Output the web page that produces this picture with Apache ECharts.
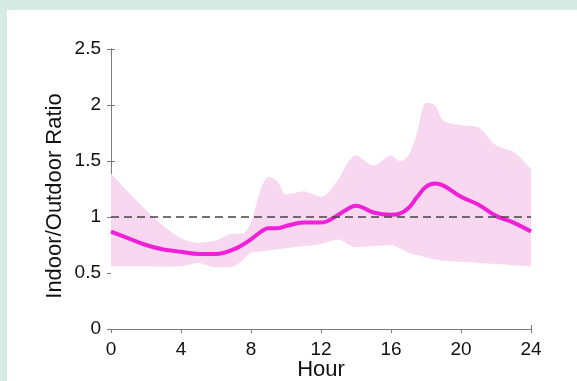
<!DOCTYPE html>
<html>
<head>
<meta charset="utf-8">
<script src="https://cdn.jsdelivr.net/npm/echarts@6/dist/echarts.min.js"></script>
<style>
  html, body { margin: 0; padding: 0; background: #d6ebe3; }
  #panel { position: absolute; left: 7px; top: 10px; width: 570px; height: 371px; background: #fff; }
  #chart { position: absolute; left: 0; top: 0; width: 577px; height: 381px; }
</style>
</head>
<body>
<div id="panel"></div>
<div id="chart"></div>
<script>
  // 小时（横轴）
  const hours = [0, 1, 2, 3, 4, 5, 6, 7, 7.5, 8, 8.5, 9, 9.5, 10, 11, 12, 13, 13.5, 14, 15, 16, 16.5, 17, 17.5, 18, 18.5, 19, 20, 21, 22, 23, 24]
  // 平均室内/室外比
  const meanRatio = [0.87, 0.81, 0.75, 0.71, 0.69, 0.67, 0.67, 0.71, 0.75, 0.80, 0.86, 0.90, 0.90, 0.92, 0.95, 0.95, 1.02, 1.07, 1.10, 1.04, 1.02, 1.03, 1.08, 1.18, 1.27, 1.30, 1.28, 1.18, 1.11, 1.01, 0.95, 0.87]
  // 上界
  const upperBound = [1.39, 1.22, 1.06, 0.92, 0.81, 0.77, 0.79, 0.85, 0.85, 0.95, 1.22, 1.36, 1.32, 1.20, 1.23, 1.18, 1.34, 1.48, 1.55, 1.46, 1.55, 1.50, 1.55, 1.76, 2.02, 2.00, 1.86, 1.82, 1.80, 1.64, 1.58, 1.43]
  // 下界
  const lowerBound = [0.56, 0.56, 0.56, 0.555, 0.56, 0.59, 0.55, 0.56, 0.61, 0.68, 0.69, 0.70, 0.71, 0.72, 0.74, 0.76, 0.80, 0.76, 0.73, 0.74, 0.75, 0.72, 0.68, 0.66, 0.64, 0.62, 0.61, 0.60, 0.59, 0.58, 0.57, 0.56]
  const refLevel = 1

  const font = 'Liberation Sans, Arial, sans-serif'
  const axisColor = '#7a7a7a'

  let upperData = hours.map((h, i) => [h, upperBound[i]])
  let lowerData = hours.map((h, i) => [h, lowerBound[i]])
  let meanData = hours.map((h, i) => [h, meanRatio[i]])

  let chart = echarts.init(document.getElementById('chart'))
  chart.setOption({
    animation: false,
    grid: { left: 111, right: 46, top: 49, bottom: 52, outerBoundsMode: 'none' },
    xAxis: [
      {
        type: 'value', min: 0, max: 24, interval: 4,
        name: 'Hour', nameLocation: 'middle', nameGap: 30, nameMoveOverlap: false,
        nameTextStyle: { fontFamily: font, fontSize: 22, color: '#111' },
        axisLine: { lineStyle: { color: axisColor } },
        axisTick: { inside: true, length: 4, lineStyle: { color: axisColor } },
        axisLabel: { fontFamily: font, fontSize: 19, color: '#111', margin: 11 },
        splitLine: { show: false }
      },
      {
        type: 'value', min: 0, max: 24, interval: 4, position: 'top',
        axisLine: { lineStyle: { color: axisColor } },
        axisTick: { inside: true, length: 4, lineStyle: { color: axisColor } },
        axisLabel: { show: false },
        splitLine: { show: false }
      }
    ],
    yAxis: [
      {
        type: 'value', min: 0, max: 2.5, interval: 0.5,
        name: 'Indoor/Outdoor Ratio', nameLocation: 'middle', nameGap: 45, nameMoveOverlap: false,
        nameTextStyle: { fontFamily: font, fontSize: 22, color: '#111', padding: [0, 14, 0, 0] },
        axisLine: { show: true, lineStyle: { color: axisColor } },
        axisTick: { show: true, inside: true, length: 4, lineStyle: { color: axisColor } },
        axisLabel: { fontFamily: font, fontSize: 19, color: '#111', margin: 10 },
        splitLine: { show: false }
      },
      {
        type: 'value', min: 0, max: 2.5, interval: 0.5, position: 'right',
        axisLine: { show: true, lineStyle: { color: axisColor } },
        axisTick: { show: true, inside: true, length: 4, lineStyle: { color: axisColor } },
        axisLabel: { show: false },
        splitLine: { show: false }
      }
    ],
    series: [
      // 上界填充到0，再用白色盖住下界以下的部分
      {
        type: 'line', data: upperData, smooth: 0.3, symbol: 'none',
        lineStyle: { width: 0 }, areaStyle: { color: '#f8d7f1', opacity: 1 },
        silent: true, z: 1
      },
      {
        type: 'line', data: lowerData, smooth: 0.3, symbol: 'none',
        lineStyle: { width: 0 }, areaStyle: { color: '#ffffff', opacity: 1 },
        silent: true, z: 1
      },
      {
        type: 'line', data: meanData, smooth: 0.4, symbol: 'none',
        lineStyle: { color: '#f020d8', width: 4 },
        markLine: {
          silent: true, symbol: 'none', label: { show: false },
          lineStyle: { color: '#444', type: [8, 5], width: 1.5 },
          data: [{ yAxis: refLevel }]
        },
        z: 3
      }
    ]
  })
</script>
</body>
</html>
